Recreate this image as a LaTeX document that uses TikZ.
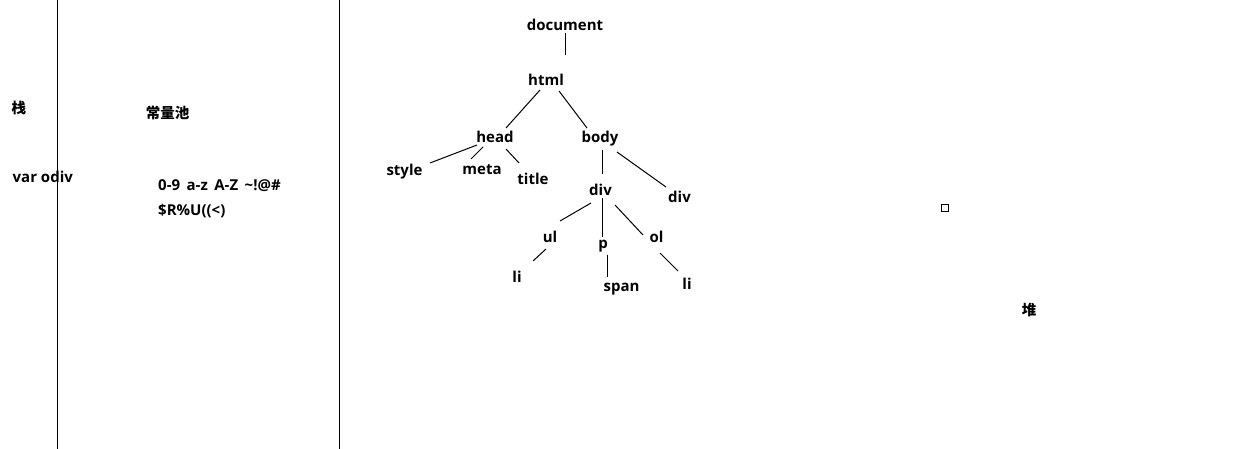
\documentclass[tikz,border=0pt]{standalone}
\usepackage{fontspec}
\setmainfont{Open Sans}
\newfontfamily\cjk{Noto Sans CJK SC}
\usetikzlibrary{calc}

\begin{document}
\begin{tikzpicture}[x=1pt,y=-1pt]

    \tikzset{
      TagStyle/.style = { inner sep = 0pt, anchor = base,
			  font = \fontsize{15}{18}\selectfont\bfseries },
      HanStyle/.style = { inner sep = 0pt, anchor = base,
			  font = \fontsize{14.5}{17}\selectfont\cjk\bfseries },
      LineStyle/.style = { line width = 1pt } }

      \useasboundingbox (0,0) rectangle (1251,449);

      % the three areas
      \draw[LineStyle] (57,0) -- (57,449);
      \draw[LineStyle] (339,0) -- (339,449);

      \node[HanStyle] (stack) at (19,114) {栈};
      \node[HanStyle] (pool) at (167.5,119) {常量池};
      \node[HanStyle] (heap) at (1029,316) {堆};

      \node[TagStyle,anchor=base west] (odiv) at (12.5,183) {var odiv};
      \node[TagStyle,anchor=base west] (chars1) at (158,191)
        {\spaceskip=6.5pt\relax 0-9 a-z A-Z \textasciitilde!@\#};
      \node[TagStyle,anchor=base west] (chars2) at (158,216) {\$R\%U((<)};

      % the tree
      \node[TagStyle] (document) at (565,31) {document};
      \node[TagStyle] (html) at (546,86) {html};
      \node[TagStyle] (head) at (495,143) {head};
      \node[TagStyle] (body) at (600,143) {body};
      \node[TagStyle] (style) at (404.5,176) {style};
      \node[TagStyle] (meta) at (482,175) {meta};
      \node[TagStyle] (title) at (533,185) {title};
      \node[TagStyle] (div1) at (600.5,196) {div};
      \node[TagStyle] (div2) at (679.5,203) {div};
      \node[TagStyle] (ul) at (550,243) {ul};
      \node[TagStyle] (p) at (603,249) {p};
      \node[TagStyle] (ol) at (656.5,243) {ol};
      \node[TagStyle] (li1) at (517,283) {li};
      \node[TagStyle] (span) at (621.5,291) {span};
      \node[TagStyle] (li2) at (687,290) {li};

      \draw[LineStyle] ($(document.base)+(0,2)$) -- ($(html.base)+(19,-31)$);
      \draw[LineStyle] ($(html.base)+(-6,4)$) -- ($(head.base)+(11,-15)$);
      \draw[LineStyle] ($(html.base)+(13,5)$) -- ($(body.base)+(-13,-15)$);
      \draw[LineStyle] ($(head.base)+(-18,2)$) -- ($(style.base)+(25.5,-13)$);
      \draw[LineStyle] ($(head.base)+(-12,4)$) -- ($(meta.base)+(-11,-16)$);
      \draw[LineStyle] ($(head.base)+(11,6)$) -- ($(title.base)+(-14,-22)$);
      \draw[LineStyle] ($(body.base)+(2,7)$) -- ($(div1.base)+(1.5,-22)$);
      \draw[LineStyle] ($(body.base)+(17,9)$) -- ($(div2.base)+(-13.5,-16)$);
      \draw[LineStyle] ($(div1.base)+(-9.5,7)$) -- ($(ul.base)+(10,-22)$);
      \draw[LineStyle] ($(div1.base)+(1.5,2)$) -- ($(p.base)+(-1,-12)$);
      \draw[LineStyle] ($(div1.base)+(14.5,9)$) -- ($(ol.base)+(-13.5,-8)$);
      \draw[LineStyle] ($(ul.base)+(-4,6)$) -- ($(li1.base)+(16,-22)$);
      \draw[LineStyle] ($(p.base)+(4,6)$) -- ($(span.base)+(-14.5,-14)$);
      \draw[LineStyle] ($(ol.base)+(3.5,10)$) -- ($(li2.base)+(-9,-19)$);

      % stray box
      \draw[LineStyle] (941.5,204.5) rectangle (948.5,211.5);
    \end{tikzpicture}
\end{document}
